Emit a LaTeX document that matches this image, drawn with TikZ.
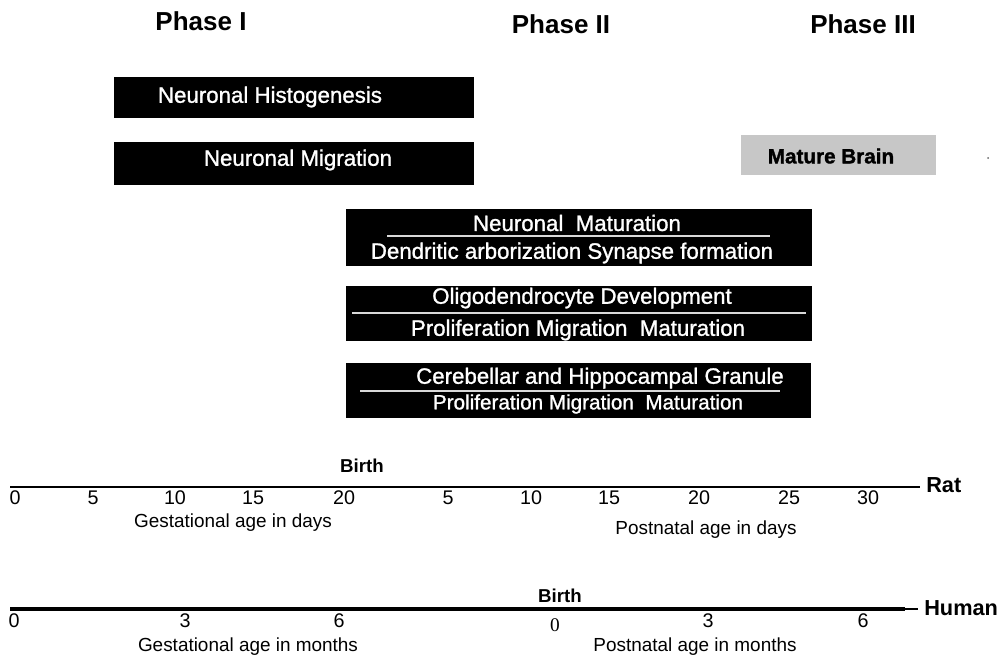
\documentclass[tikz,border=0pt]{standalone}
\usepackage{fontspec}
\setmainfont{Liberation Sans}
\newfontfamily\boxfam[FakeBold=1.2]{Liberation Sans}
\newfontfamily\heavyfam[FakeBold=1.5]{Liberation Sans Bold}
\usetikzlibrary{fit}
\newcommand{\fsz}[1]{\fontsize{#1}{#1}\selectfont}
\tikzset{
  phase/.style={font=\bfseries\fsz{19.5pt}, inner sep=0},
  blackbox/.style={fill=black, draw=none, inner sep=0},
  boxtext/.style={text=white, font=\boxfam\fsz{16.7pt}, inner sep=0},
  sepline/.style={draw=white!85!black, line width=0.8pt},
  axis/.style={draw=black, line width=2.2pt},
  axisend/.style={draw=black, line width=1.3pt},
  ticklab/.style={font=\fsz{14.8pt}, inner sep=0},
  axlab/.style={font=\fsz{14.2pt}, inner sep=0},
  birthlab/.style={font=\bfseries\fsz{14pt}, inner sep=0},
  species/.style={font=\bfseries\fsz{16.3pt}, inner sep=0, anchor=west}
}
\begin{document}
\begin{tikzpicture}[x=0.75pt, y=-0.75pt]
\useasboundingbox (0,0) rectangle (1002,661);

% phases
\node[phase] (p1) at (201,21) {Phase I};
\node[phase] (p2) at (561,24) {Phase II};
\node[phase] (p3) at (863,24) {Phase III};

% phase I boxes
\node[blackbox, fit={(114,77)(474,118)}] (hist) {};
\node[boxtext] (histT) at (270,97) {Neuronal Histogenesis};
\node[blackbox, fit={(114,142)(474,185)}] (migr) {};
\node[boxtext] (migrT) at (298,160) {Neuronal Migration};

% mature brain
\node[fill=black!22, draw=none, inner sep=0, fit={(741,135)(936,175)}] (mat) {};
\node[font=\heavyfam\fsz{15.5pt}, inner sep=0] (matT) at (831,156) {Mature Brain};
\node[circle, fill=black!60, inner sep=0, minimum size=1.5pt] (dot) at (988,158) {};

% neuronal maturation
\node[blackbox, fit={(346,209)(812,266)}] (nm) {};
\node[boxtext] (nmT1) at (577,223) {Neuronal\ \ Maturation};
\node[boxtext] (nmT2) at (572,253) {Dendritic arborization Synapse formation};
\coordinate (nmA) at (387,236);
\coordinate (nmB) at (770,236);
\draw[sepline] (nmA) -- (nmB);

% oligodendrocyte
\node[blackbox, fit={(346,286)(812,341)}] (ol) {};
\node[boxtext] (olT1) at (582,298) {Oligodendrocyte Development};
\node[boxtext] (olT2) at (578,330) {Proliferation Migration\ \ Maturation};
\coordinate (olA) at (352,313);
\coordinate (olB) at (806,313);
\draw[sepline] (olA) -- (olB);

% cerebellar
\node[blackbox, fit={(346,363)(811,418)}] (cb) {};
\node[boxtext] (cbT1) at (600,378) {Cerebellar and Hippocampal Granule};
\node[boxtext, font=\boxfam\fsz{15.5pt}] (cbT2) at (588,404) {Proliferation Migration\ \ Maturation};
\coordinate (cbA) at (360,391);
\coordinate (cbB) at (780,391);
\draw[sepline] (cbA) -- (cbB);

% rat axis
\coordinate (ratL) at (10,487);
\coordinate (ratM) at (907,487);
\coordinate (ratR) at (920,487);
\draw[axis] (ratL) -- (ratM);
\draw[axisend] (ratM) -- (ratR);
\node[species] (rat) at (926,485) {Rat};
\node[birthlab] (birthR) at (362,466) {Birth};
\node[ticklab] (r0) at (15,498) {0};
\node[ticklab] (r5) at (93,498) {5};
\node[ticklab] (r10) at (175,498) {10};
\node[ticklab] (r15) at (253,498) {15};
\node[ticklab] (r20) at (344,498) {20};
\node[ticklab] (r5b) at (448,498) {5};
\node[ticklab] (r10b) at (531,498) {10};
\node[ticklab] (r15b) at (609,498) {15};
\node[ticklab] (r20b) at (699,498) {20};
\node[ticklab] (r25b) at (789,498) {25};
\node[ticklab] (r30b) at (868,498) {30};
\node[axlab] (gd) at (233,523) {Gestational age in days};
\node[axlab] (pd) at (706,530) {Postnatal age in days};

% human axis
\coordinate (humL) at (10,609);
\coordinate (humM) at (905,609);
\coordinate (humR) at (918,609);
\draw[axis, line width=2.6pt] (humL) -- (humM);
\draw[axisend] (humM) -- (humR);
\node[species] (hum) at (924,608) {Human};
\node[birthlab] (birthH) at (560,596) {Birth};
\node[ticklab] (h0) at (14,621) {0};
\node[ticklab] (h3) at (185,621) {3};
\node[ticklab] (h6) at (339,621) {6};
\node[ticklab, font=\fontspec{Liberation Serif}\fsz{14.5pt}] (h0b) at (555,625) {0};
\node[ticklab] (h3b) at (708,621) {3};
\node[ticklab] (h6b) at (863,621) {6};
\node[axlab] (gm) at (248,647) {Gestational age in months};
\node[axlab] (pm) at (695,647) {Postnatal age in months};
\end{tikzpicture}
\end{document}
